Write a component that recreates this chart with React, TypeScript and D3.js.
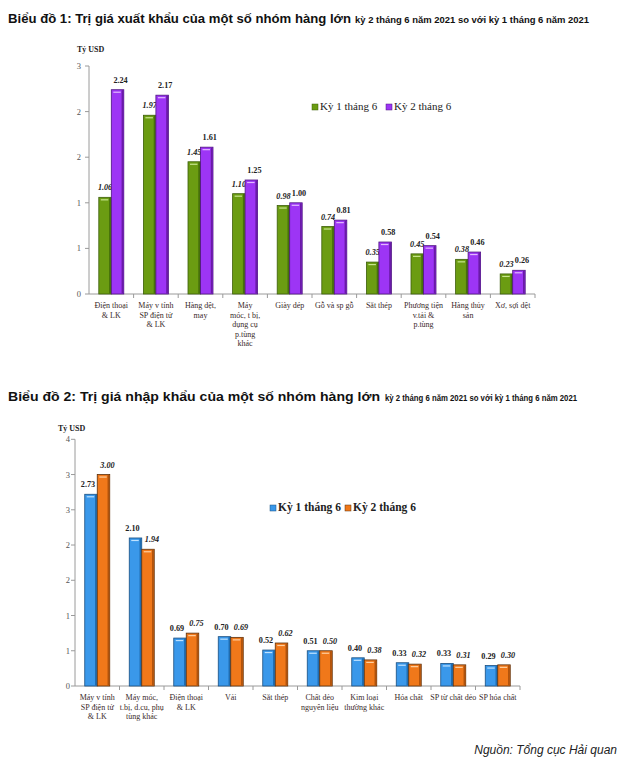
import React from "react";
import * as d3 from "d3";

// ---------- Chart 1 data ----------
const cats1: string[][] = [
  ["Điện thoại", "& LK"],
  ["Máy v tính", "SP điện tử", "& LK"],
  ["Hàng dệt,", "may"],
  ["Máy", "móc, t bị,", "dụng cụ", "p.tùng", "khác"],
  ["Giày dép"],
  ["Gỗ và sp gỗ"],
  ["Sắt thép"],
  ["Phương tiện", "v.tải &", "p.tùng"],
  ["Hàng thủy", "sản"],
  ["Xơ, sợi dệt"],
];
const ky1Export = [1.06, 1.97, 1.45, 1.1, 0.98, 0.74, 0.35, 0.45, 0.38, 0.23];
const ky2Export = [2.24, 2.17, 1.61, 1.25, 1.0, 0.81, 0.58, 0.54, 0.46, 0.26];
// bar heights as drawn in the picture (axis scale of the source chart)
const ky1ExportH = [1.06, 1.96, 1.45, 1.1, 0.97, 0.74, 0.35, 0.44, 0.38, 0.22];
const ky2ExportH = [2.24, 2.18, 1.61, 1.25, 1.0, 0.81, 0.57, 0.53, 0.46, 0.26];
const ticks1 = [0, 0.5, 1, 1.5, 2, 2.5];

// ---------- Chart 2 data ----------
const cats2: string[][] = [
  ["Máy v tính", "SP điện tử", "& LK"],
  ["Máy móc,", "t.bị, d.cu, phụ", "tùng khác"],
  ["Điện thoại", "& LK"],
  ["Vải"],
  ["Sắt thép"],
  ["Chất dẻo", "nguyên liệu"],
  ["Kim loại", "thường khác"],
  ["Hóa chất"],
  ["SP từ chất dẻo"],
  ["SP hóa chất"],
];
const ky1Import = [2.73, 2.1, 0.69, 0.7, 0.52, 0.51, 0.4, 0.33, 0.33, 0.29];
const ky2Import = [3.0, 1.94, 0.75, 0.69, 0.62, 0.5, 0.38, 0.32, 0.31, 0.3];
const ky1ImportH = [2.72, 2.1, 0.68, 0.7, 0.51, 0.5, 0.4, 0.33, 0.32, 0.29];
const ky2ImportH = [3.0, 1.94, 0.75, 0.69, 0.61, 0.5, 0.37, 0.31, 0.3, 0.3];
const ticks2 = [0, 0.5, 1, 1.5, 2, 2.5, 3, 3.5];

const seriesNames = ["Kỳ 1 tháng 6", "Kỳ 2 tháng 6"];

const SERIF = "'Liberation Serif', 'Times New Roman', serif";
const SANS = "'Liberation Sans', Arial, sans-serif";

type Style = { fill: string; dark: string; light: string; edge: string };

const green: Style = { fill: "#6b9c12", dark: "#46700a", light: "#c8e690", edge: "#3d5f0a" };
const purple: Style = { fill: "#9d35f5", dark: "#6a1aa8", light: "#e2b8ff", edge: "#4e1580" };
const blue: Style = { fill: "#3a98ea", dark: "#1f6cb0", light: "#bfe2ff", edge: "#1a4f80" };
const orange: Style = { fill: "#f0781a", dark: "#b0520c", light: "#ffd0a0", edge: "#5c300c" };

function Bar({ x, y, w, h, s }: { x: number; y: number; w: number; h: number; s: Style }) {
  return (
    <g>
      <rect x={x} y={y} width={w} height={h} fill={s.fill} stroke={s.edge} strokeWidth={0.8} />
      <rect x={x + w - 2.2} y={y + 0.4} width={1.8} height={Math.max(0, h - 0.8)} fill={s.dark} />
      <line x1={x + 2} x2={x + w - 3} y1={y + 2.5} y2={y + 2.5} stroke={s.light} strokeWidth={1.2} />
    </g>
  );
}

type ChartProps = {
  cats: string[][];
  v1: number[];
  v2: number[];
  h1: number[];
  h2: number[];
  ticks: number[];
  domainMax: number;
  x0: number;
  x1: number;
  yBase: number;
  yTop: number;
  s1: Style;
  s2: Style;
  italic1: boolean;
  italic2: boolean;
  dx1: number;
  dx2: number;
  tickLabelX: number;
  unitX: number;
  unitY: number;
  unitBold: boolean;
  legendX: number;
  legendY: number;
  legendGap: number;
  legendBold: boolean;
  legendSize: number;
  catY: number;
};

function Chart(p: ChartProps) {
  const idx = p.cats.map((_, i) => String(i));
  const x = d3.scaleBand<string>().domain(idx).range([p.x0, p.x1]).paddingInner(0).paddingOuter(0);
  const y = d3.scaleLinear().domain([0, p.domainMax]).range([p.yBase, p.yTop]);
  const bw = 12.5;
  const axisColor = "#9a9a9a";
  const fmtTick = (t: number) => String(Math.round(t + 1e-9));
  return (
    <g>
      <text x={p.unitX} y={p.unitY} fontFamily={SERIF} fontSize={8} fontWeight={p.unitBold ? "bold" : "normal"} fill="#222">
        Tỷ USD
      </text>
      {/* y axis */}
      <line x1={p.x0} x2={p.x0} y1={p.yTop} y2={p.yBase} stroke={axisColor} strokeWidth={1} />
      {p.ticks.map((t) => (
        <g key={t}>
          <line x1={p.x0 - 4} x2={p.x0} y1={y(t)} y2={y(t)} stroke={axisColor} />
          <text x={p.tickLabelX} y={y(t) + 3} textAnchor="end" fontFamily={SERIF} fontSize={8.5} fill="#555">
            {fmtTick(t)}
          </text>
        </g>
      ))}
      {/* x axis */}
      <line x1={p.x0} x2={p.x1} y1={p.yBase} y2={p.yBase} stroke={axisColor} strokeWidth={1} />
      {idx.map((k) => (
        <line key={k} x1={(x(k) as number) + x.bandwidth()} x2={(x(k) as number) + x.bandwidth()} y1={p.yBase} y2={p.yBase + 4} stroke={axisColor} />
      ))}
      {/* category labels */}
      {p.cats.map((lines, i) => {
        const cx = (x(String(i)) as number) + x.bandwidth() / 2;
        return (
          <text key={i} x={cx} y={p.catY} textAnchor="middle" fontFamily={SERIF} fontSize={8} fill="#3a2a2a">
            {lines.map((ln, j) => (
              <tspan key={j} x={cx} dy={j === 0 ? 0 : 9.5}>
                {ln}
              </tspan>
            ))}
          </text>
        );
      })}
      {/* series 1 bars + labels */}
      {p.h1.map((v, i) => {
        const cx = (x(String(i)) as number) + x.bandwidth() / 2;
        return <Bar key={i} x={cx - bw} y={y(v)} w={bw} h={p.yBase - y(v)} s={p.s1} />;
      })}
      {p.v1.map((v, i) => {
        const cx = (x(String(i)) as number) + x.bandwidth() / 2;
        return (
          <text key={i} x={cx - bw / 2 + p.dx1} y={y(p.h1[i]) - 7} textAnchor="middle" fontFamily={SERIF} fontSize={8.2} fontWeight="bold" fontStyle={p.italic1 ? "italic" : "normal"} fill="#222">
            {v.toFixed(2)}
          </text>
        );
      })}
      {/* series 2 bars + labels */}
      {p.h2.map((v, i) => {
        const cx = (x(String(i)) as number) + x.bandwidth() / 2;
        return <Bar key={i} x={cx} y={y(v)} w={bw} h={p.yBase - y(v)} s={p.s2} />;
      })}
      {p.v2.map((v, i) => {
        const cx = (x(String(i)) as number) + x.bandwidth() / 2;
        return (
          <text key={i} x={cx + bw / 2 + p.dx2} y={y(p.h2[i]) - 7} textAnchor="middle" fontFamily={SERIF} fontSize={8.2} fontWeight="bold" fontStyle={p.italic2 ? "italic" : "normal"} fill="#222">
            {v.toFixed(2)}
          </text>
        );
      })}
      {/* legend */}
      {[p.s1, p.s2].map((s, i) => (
        <g key={i} transform={`translate(${p.legendX + i * p.legendGap},${p.legendY})`}>
          <rect x={0} y={-6} width={6} height={6} fill={s.fill} stroke={s.edge} strokeWidth={0.5} />
          <text x={8} y={0} fontFamily={SERIF} fontSize={p.legendSize} fontWeight={p.legendBold ? "bold" : "normal"} fill="#222">
            {seriesNames[i]}
          </text>
        </g>
      ))}
    </g>
  );
}

export default function App() {
  return (
    <svg width={624} height={768} style={{ position: "absolute", left: 0, top: 0, background: "#fff" }}>
      <rect width={624} height={768} fill="#fff" />
      <text x={8} y={23} fontFamily={SANS} fontWeight="bold" fill="#111" fontSize={13} textLength={343} lengthAdjust="spacingAndGlyphs">
        Biểu đồ 1: Trị giá xuất khẩu của một số nhóm hàng lớn
      </text>
      <text x={355} y={23} fontFamily={SANS} fontWeight="bold" fill="#111" fontSize={9.5} textLength={234} lengthAdjust="spacingAndGlyphs">
        kỳ 2 tháng 6 năm 2021 so với kỳ 1 tháng 6 năm 2021
      </text>
      <Chart
        cats={cats1}
        v1={ky1Export}
        v2={ky2Export}
        h1={ky1ExportH}
        h2={ky2ExportH}
        ticks={ticks1}
        domainMax={2.5}
        x0={89}
        x1={535}
        yBase={294}
        yTop={66}
        s1={green}
        s2={purple}
        italic1={true}
        italic2={false}
        dx1={0}
        dx2={3}
        tickLabelX={81}
        unitX={77}
        unitY={52}
        unitBold={true}
        legendX={312}
        legendY={110}
        legendGap={74}
        legendBold={false}
        legendSize={11}
        catY={308}
      />
      <text x={8} y={401} fontFamily={SANS} fontWeight="bold" fill="#111" fontSize={13.3} textLength={372} lengthAdjust="spacingAndGlyphs">
        Biểu đồ 2: Trị giá nhập khẩu của một số nhóm hàng lớn
      </text>
      <text x={385} y={401} fontFamily={SANS} fontWeight="bold" fill="#111" fontSize={8.8} textLength={192} lengthAdjust="spacingAndGlyphs">
        kỳ 2 tháng 6 năm 2021 so với kỳ 1 tháng 6 năm 2021
      </text>
      <Chart
        cats={cats2}
        v1={ky1Import}
        v2={ky2Import}
        h1={ky1ImportH}
        h2={ky2ImportH}
        ticks={ticks2}
        domainMax={3.5}
        x0={75}
        x1={520}
        yBase={686}
        yTop={439.3}
        s1={blue}
        s2={orange}
        italic1={false}
        italic2={true}
        dx1={-3}
        dx2={4}
        tickLabelX={70}
        unitX={58}
        unitY={431}
        unitBold={true}
        legendX={270}
        legendY={511}
        legendGap={75}
        legendBold={true}
        legendSize={11.5}
        catY={700}
      />
      <text x={617} y={754} textAnchor="end" fontFamily={SANS} fontStyle="italic" fontSize={12} fill="#222">
        Nguồn: Tổng cục Hải quan
      </text>
    </svg>
  );
}
